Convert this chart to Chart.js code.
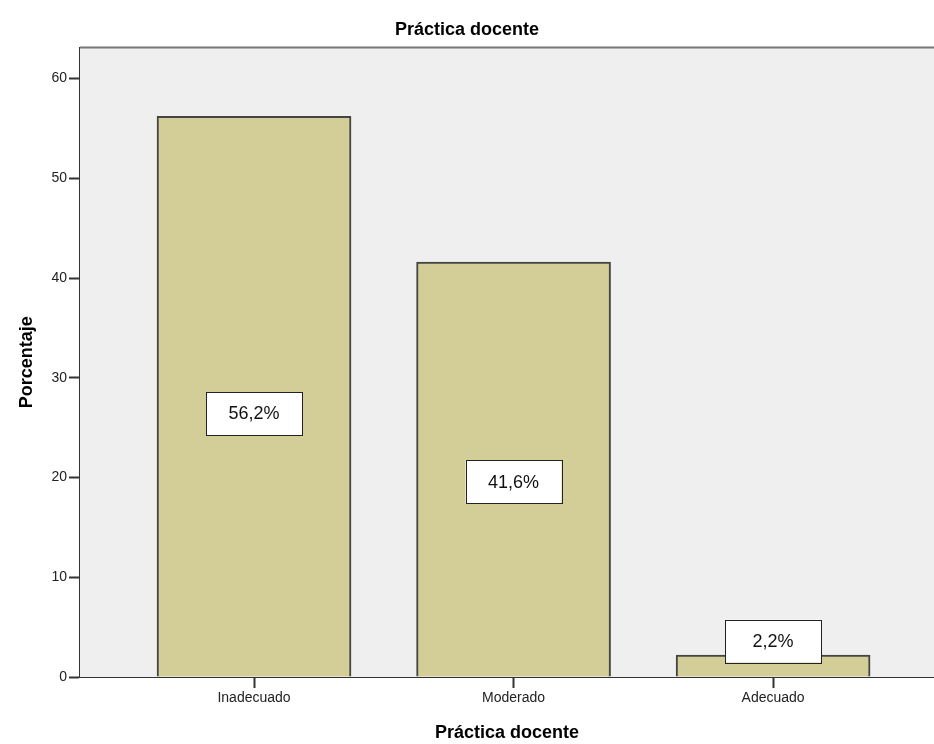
<!DOCTYPE html>
<html>
<head>
<meta charset="utf-8">
<script src="https://cdn.jsdelivr.net/npm/chart.js@4.4.1/dist/chart.umd.min.js"></script>
<style>
  html, body { margin: 0; padding: 0; background: #fff; }
  #wrap { width: 934px; height: 744px; position: relative; }
</style>
</head>
<body>
<div id="wrap"><canvas id="chart"></canvas></div>
<script>
const categories = ['Inadecuado', 'Moderado', 'Adecuado'];
const percentages = [56.2, 41.6, 2.2];
const yTicks = [0, 10, 20, 30, 40, 50, 60];

// plot background + top frame line
const plotFrame = {
  id: 'plotFrame',
  beforeDatasetsDraw(chart) {
    const { ctx, chartArea: a } = chart;
    ctx.save();
    ctx.fillStyle = '#efefef';
    ctx.fillRect(a.left, a.top, a.right - a.left, a.bottom - a.top);
    ctx.strokeStyle = '#777';
    ctx.lineWidth = 2;
    ctx.beginPath();
    ctx.moveTo(a.left, a.top);
    ctx.lineTo(a.right, a.top);
    ctx.stroke();
    ctx.restore();
  }
};

// white boxed value labels
const boxLabels = {
  id: 'boxLabels',
  afterDatasetsDraw(chart) {
    const { ctx } = chart;
    const yScale = chart.scales.y;
    const meta = chart.getDatasetMeta(0);
    const w = 96, h = 43;
    ctx.save();
    ctx.font = '18px "Liberation Sans", Arial, sans-serif';
    ctx.textAlign = 'center';
    ctx.textBaseline = 'middle';
    meta.data.forEach((bar, i) => {
      const v = percentages[i];
      const barH = yScale.getPixelForValue(0) - yScale.getPixelForValue(v);
      let cy = barH > h ? yScale.getPixelForValue(v * 0.47) : bar.y - 14;
      const cx = bar.x;
      ctx.fillStyle = '#fff';
      ctx.fillRect(cx - w / 2, cy - h / 2, w, h);
      ctx.strokeStyle = '#222';
      ctx.lineWidth = 1;
      ctx.strokeRect(Math.round(cx - w / 2) + 0.5, Math.round(cy - h / 2) + 0.5, w, h);
      ctx.fillStyle = '#111';
      ctx.fillText(v.toFixed(1).replace('.', ',') + '%', cx, cy + 1);
    });
    ctx.restore();
  }
};

new Chart(document.getElementById('chart'), {
  type: 'bar',
  data: {
    datasets: [{
      data: percentages.map((v, i) => ({ x: i, y: v })),
      backgroundColor: '#d3ce98',
      borderColor: '#444',
      borderWidth: 2,
      borderSkipped: 'bottom',
      barThickness: 194
    }]
  },
  options: {
    responsive: true,
    maintainAspectRatio: false,
    animation: false,
    layout: { padding: { top: 0, right: 0, bottom: 0, left: 0 } },
    plugins: {
      legend: { display: false },
      tooltip: { enabled: false },
      title: {
        display: true,
        text: 'Práctica docente',
        color: '#000',
        font: { family: 'Liberation Sans, Arial, sans-serif', size: 18, weight: 'bold' },
        padding: { top: 19, bottom: 7 }
      }
    },
    scales: {
      x: {
        type: 'linear',
        offset: false,
        min: -0.6705,
        max: 2.62,
        afterFit(scale) { scale.height = 67; },
        afterBuildTicks(scale) { scale.ticks = categories.map((c, i) => ({ value: i })); },
        grid: { display: true, offset: false, drawOnChartArea: false, drawTicks: true, tickLength: 11, tickColor: '#333', tickWidth: 2 },
        border: { display: true, color: '#333', width: 2 },
        ticks: {
          padding: 2,
          color: '#222',
          font: { family: 'Liberation Sans, Arial, sans-serif', size: 14 },
          callback: (v) => categories[v]
        },
        title: {
          display: true,
          text: 'Práctica docente',
          color: '#000',
          font: { family: 'Liberation Sans, Arial, sans-serif', size: 18, weight: 'bold' },
          padding: { top: 0, bottom: 0 }
        }
      },
      y: {
        min: 0,
        max: 63.1,
        afterFit(scale) { scale.width = 80; },
        afterBuildTicks(scale) { scale.ticks = yTicks.map(v => ({ value: v })); },
        grid: { display: true, drawOnChartArea: false, drawTicks: true, tickLength: 11, tickColor: '#333', tickWidth: 2 },
        border: { display: true, color: '#333', width: 2 },
        ticks: {
          padding: 2,
          color: '#222',
          font: { family: 'Liberation Sans, Arial, sans-serif', size: 14 }
        },
        title: {
          display: true,
          text: 'Porcentaje',
          color: '#000',
          font: { family: 'Liberation Sans, Arial, sans-serif', size: 18, weight: 'bold' },
          padding: { top: 16, bottom: 0 }
        }
      }
    }
  },
  plugins: [plotFrame, boxLabels]
});
</script>
</body>
</html>
